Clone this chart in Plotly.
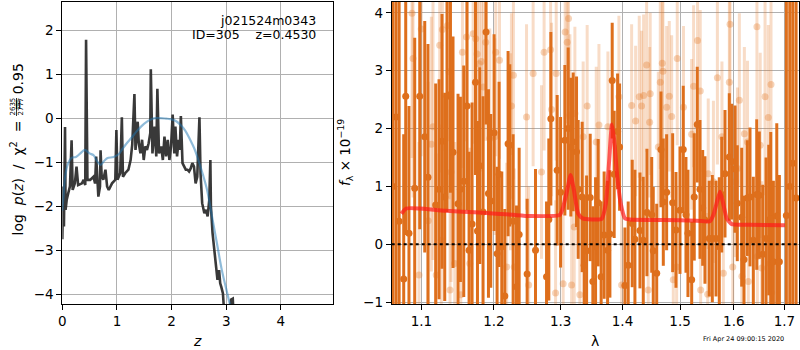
import plotly.graph_objects as go

# ---------------- Left panel: log p(z) ----------------
z_chi = [0.00, 0.018, 0.03, 0.05, 0.06, 0.08, 0.11, 0.14, 0.17, 0.19, 0.23, 0.26, 0.29, 0.36, 0.39,
         0.42, 0.435, 0.46, 0.51, 0.57, 0.60, 0.62, 0.66, 0.69, 0.70, 0.72, 0.75, 0.79, 0.82, 0.85,
         0.91, 0.97, 0.99, 1.01, 1.06, 1.09, 1.11, 1.15, 1.21, 1.25, 1.28, 1.32, 1.34, 1.38, 1.40,
         1.43, 1.46, 1.49, 1.52, 1.55, 1.58, 1.61, 1.62, 1.65, 1.69, 1.72, 1.74, 1.77, 1.81, 1.84,
         1.87, 1.90, 1.93, 1.96, 1.99, 2.02, 2.05, 2.07, 2.10, 2.13, 2.15, 2.17, 2.20, 2.23, 2.26,
         2.29, 2.32, 2.35, 2.38, 2.41, 2.44, 2.47, 2.51, 2.53, 2.56, 2.60, 2.63, 2.66, 2.69, 2.71,
         2.72, 2.75, 2.78, 2.81, 2.84, 2.87, 2.89, 2.91, 2.94, 2.96, 2.99, 3.05, 3.09, 3.12, 3.14]
logp_chi = [-2.75, -1.55, -2.46, -0.20, -2.08, -1.86, -1.70, -1.55, -0.50, -1.63, -1.48, -1.10, -1.52, -1.48, -1.40,
            -1.52, 1.78, -1.40, -1.40, -1.33, -1.48, -0.87, -1.78, -1.55, -0.73, -1.30, -1.40, -1.17, -1.55, -1.63,
            -1.48, -1.40, -0.27, -1.40, -1.25, 0.02, -1.33, -1.25, -1.17, -0.95, -0.60, 0.55, -0.72, -0.08, -0.57,
            -0.80, -0.49, -0.95, -0.64, -0.72, -0.57, -0.34, 1.11, -0.80, -0.19, -0.87, 0.67, -0.80, -0.64, -0.95,
            -0.42, -0.87, -0.49, -0.95, -0.64, 0.08, -0.80, -0.19, -0.87, -0.49, -0.72, 0.05, -1.02, -1.10, -1.17,
            -1.17, -1.21, -1.14, -1.02, -1.10, -1.48, -1.33, 0.02, -1.25, -1.93, -2.16, -2.08, -2.23, -1.86, -0.95,
            -2.00, -2.61, -2.99, -3.45, -3.67, -3.45, -3.75, -3.83, -3.98, -4.36, -4.89, -4.60, -4.12, -4.10, -4.60]

z_smooth = [0.00, 0.02, 0.05, 0.10, 0.17, 0.25, 0.33, 0.41, 0.50, 0.57, 0.64, 0.70, 0.76, 0.82, 0.94,
            1.03, 1.10, 1.18, 1.27, 1.36, 1.45, 1.55, 1.62, 1.70, 1.80, 1.90, 1.98, 2.07, 2.16, 2.25,
            2.34, 2.42, 2.49, 2.57, 2.65, 2.74, 2.83, 2.92, 3.02, 3.10]
logp_smooth = [-2.10, -1.80, -1.35, -1.05, -0.90, -0.88, -0.80, -0.72, -0.80, -0.84, -0.98, -1.06, -0.98, -0.91, -0.88,
               -0.82, -0.70, -0.57, -0.44, -0.30, -0.18, -0.08, -0.03, 0.00, 0.00, -0.01, -0.02, -0.06, -0.15, -0.28,
               -0.49, -0.70, -0.95, -1.27, -1.63, -2.23, -2.84, -3.45, -3.98, -4.40]

left_xticks = [0, 1, 2, 3, 4]
left_yticks = [-4, -3, -2, -1, 0, 1, 2]

# ---------------- Right panel: spectrum ----------------
wave_dark = [1.063, 1.067, 1.071, 1.0769, 1.0795, 1.0837, 1.0912, 1.0978, 1.1044, 1.1087, 1.1190, 1.1235, 1.1275,
             1.1312, 1.1343, 1.1390, 1.1425, 1.1494, 1.1527, 1.1573, 1.1619, 1.1647, 1.1689, 1.1737, 1.1765,
             1.1798, 1.1844, 1.1887, 1.1921, 1.1954, 1.2002, 1.2045, 1.2074, 1.2113, 1.2157, 1.2205, 1.2230,
             1.2279, 1.2329, 1.2368, 1.2487, 1.2613, 1.2781, 1.2816, 1.2847, 1.2945, 1.2998, 1.3065, 1.3117,
             1.3159, 1.3196, 1.3249, 1.3275, 1.3339, 1.3371, 1.3410, 1.3468, 1.3511, 1.3555, 1.3597, 1.3646,
             1.3695, 1.3752, 1.3790, 1.3828, 1.3861, 1.3918, 1.3951, 1.4041, 1.4096, 1.4164, 1.4210, 1.4296,
             1.4353, 1.4416, 1.4499, 1.4526, 1.4586, 1.4661, 1.4702, 1.4761, 1.4868, 1.4927, 1.4999, 1.5058,
             1.5107, 1.5143, 1.5211, 1.5258, 1.5313, 1.5363, 1.5413, 1.5455, 1.5535, 1.5592, 1.5661, 1.5723,
             1.5769, 1.5831, 1.5913, 1.5959, 1.6022, 1.6066, 1.6151, 1.6196, 1.6260, 1.6313, 1.6378, 1.6445,
             1.6496, 1.6564, 1.6630, 1.6684, 1.6724, 1.6777, 1.6845, 1.6898, 1.7040, 1.7110, 1.7172, 1.7240]
flux_dark = [1.00, 2.20, 0.40, -0.60, 2.56, 0.19, 0.97, 2.56, 1.86, 1.16, 0.68, 0.95, 1.78,
             0.82, 2.56, 2.59, 1.59, 0.70, 0.95, 1.09, 2.39, -0.10, 0.35, 2.80, 0.23,
             1.36, 0.56, 3.67, 0.88, 0.75, 1.93, -0.16, 1.21, -0.04, -0.89, 1.74, 1.71,
             0.40, -0.73, 0.17, -0.51, -0.10, -0.56, 0.43, 2.17, 1.28, 0.90, 1.80, 2.00,
             1.68, 1.77, 1.60, 0.95, 0.82, -0.36, -0.11, 0.81, -0.64, -0.04, 0.72, -0.56,
             0.16, -0.10, 0.18, 2.83, 1.21, 1.95, 1.68, -0.71, -0.36, 0.36, 0.09, 0.24,
             0.07, 0.55, 0.51, -0.11, -0.50, 1.64, 0.73, 0.90, 0.72, 0.25, 0.59, 1.64,
             0.51, 0.19, -0.61, 0.82, 2.07, 0.95, 0.63, 0.42, 0.10, 0.10, 0.10, -0.04,
             0.86, 1.22, 1.51, 1.43, 1.30, 0.71, 0.47, -0.26, 0.80, 0.82, 0.07, 0.86,
             0.85, -0.17, 0.10, 0.42, 0.44, -0.30, 0.49, -0.30, 0.50, 1.00, 1.40, 0.80]
err_dark = [9.0, 9.0, 7.0, 2.5, 2.4, 2.2, 2.6, 2.3, 2.0, 2.3, 2.1, 1.9, 2.2,
            1.8, 2.0, 1.7, 2.0, 1.9, 1.6, 2.0, 1.8, 1.7, 2.1, 1.6, 1.9,
            1.7, 2.0, 1.6, 1.8, 1.5, 1.7, 1.5, 1.6, 1.3, 1.5, 1.6, 1.4,
            1.5, 1.4, 1.5, 1.3, 1.4, 1.3, 1.4, 1.5, 1.3, 1.3, 1.3, 1.4,
            1.2, 1.2, 1.3, 1.2, 1.3, 1.2, 1.3, 1.1, 1.3, 1.2, 1.1, 1.3,
            1.1, 1.2, 1.1, 1.0, 1.1, 1.0, 1.1, 1.0, 1.1, 1.1, 1.2, 1.0,
            1.1, 1.1, 1.0, 1.1, 1.2, 1.0, 1.1, 1.0, 1.2, 1.0, 1.1, 1.1,
            1.0, 1.1, 1.0, 1.1, 1.0, 1.2, 1.0, 1.1, 1.0, 1.1, 1.0, 1.2,
            1.0, 1.1, 1.1, 1.0, 1.1, 1.0, 1.2, 1.1, 1.0, 1.2, 1.1, 1.3,
            1.1, 1.2, 1.4, 1.3, 1.5, 1.4, 1.6, 1.5, 9.0, 9.0, 8.0, 9.0]

wave_light = [1.0877, 1.0890, 1.0968, 1.0998, 1.1090, 1.1132, 1.1154, 1.1197, 1.1244, 1.1266, 1.1280, 1.1349,
              1.1370, 1.1384, 1.1398, 1.1449, 1.1532, 1.1555, 1.1611, 1.1657, 1.1704, 1.1741, 1.1760, 1.1788,
              1.1821, 1.1850, 1.1882, 1.1940, 1.2012, 1.2026, 1.2080, 1.2185, 1.2240, 1.2254, 1.2283, 1.2296,
              1.2478, 1.2510, 1.2577, 1.2704, 1.2744, 1.2843, 1.2858, 1.2920, 1.2930, 1.3038, 1.3070, 1.3102,
              1.3122, 1.3144, 1.3171, 1.3212, 1.3223, 1.3302, 1.3355, 1.3419, 1.3566, 1.3610, 1.3757, 1.3940,
              1.3985, 1.4154, 1.4222, 1.4284, 1.4324, 1.4359, 1.4411, 1.4439, 1.4463, 1.4473, 1.4614, 1.4649,
              1.4684, 1.4696, 1.4761, 1.4808, 1.4850, 1.4879, 1.4939, 1.4950, 1.5062, 1.5210, 1.5246, 1.5318,
              1.5368, 1.5376, 1.5506, 1.5516, 1.5613, 1.5687, 1.5773, 1.5800, 1.5914, 1.5927, 1.5979, 1.6026,
              1.6070, 1.6106, 1.6155, 1.6203, 1.6264, 1.6280, 1.6449, 1.6458, 1.6514, 1.6543, 1.6610, 1.6675,
              1.6709, 1.6729, 1.6743]
flux_light = [3.99, 3.21, -0.53, 3.72, 0.41, 1.73, 2.03, -0.53, 3.44, 0.07, 3.71, 3.78,
              2.98, -0.79, 1.25, -0.33, -0.87, 3.32, 3.58, -0.33, 3.64, 3.55, 3.29, 3.12,
              3.16, 2.72, 3.49, 1.83, 1.86, 3.32, 3.18, -0.39, 1.60, 2.39, 2.92, -0.39,
              2.20, -0.70, 2.95, 1.25, 3.32, 3.36, 2.33, -0.84, 2.95, -0.68, 3.67, 3.49,
              3.90, 2.23, -0.70, 0.30, 2.26, -0.87, 1.86, 2.39, 1.77, 2.06, 2.03, 2.55,
              -0.70, 2.40, 2.13, 2.55, 2.39, 2.57, 3.10, -0.79, 2.11, 2.60, 1.68, 2.80,
              3.13, 2.99, 2.37, 2.56, 2.21, -0.61, -0.39, 3.21, 2.37, 1.90, 2.73, 3.52,
              2.65, -0.79, -0.86, 1.22, 1.08, 2.88, 1.86, -0.50, 2.80, 3.80, -0.39, 1.08,
              1.31, 2.49, -0.55, 1.91, 1.77, -0.64, 3.76, -0.21, 1.71, -0.41, 2.55, 2.19,
              -0.33, 2.76, -0.83]
err_light = [2.5, 2.4, 2.3, 2.2, 2.4, 2.2, 2.3, 2.1, 2.2, 2.0, 2.1, 2.0,
             2.2, 2.0, 1.9, 2.1, 1.9, 2.0, 1.8, 2.0, 1.9, 1.8, 2.0, 1.7,
             1.9, 1.8, 1.7, 1.9, 1.7, 1.8, 1.7, 1.8, 1.7, 1.6, 1.8, 1.7,
             1.6, 1.7, 1.6, 1.5, 1.7, 1.6, 1.5, 1.6, 1.5, 1.6, 1.5, 1.4,
             1.5, 1.4, 1.5, 1.4, 1.5, 1.4, 1.3, 1.4, 1.3, 1.4, 1.3, 1.4,
             1.3, 1.4, 1.3, 1.4, 1.3, 1.4, 1.5, 1.4, 1.3, 1.4, 1.3, 1.5,
             1.4, 1.5, 1.4, 1.3, 1.4, 1.3, 1.4, 1.5, 1.4, 1.3, 1.4, 1.5,
             1.4, 1.3, 1.4, 1.3, 1.4, 1.5, 1.3, 1.4, 1.5, 1.6, 1.4, 1.3,
             1.4, 1.5, 1.4, 1.5, 1.4, 1.5, 1.6, 1.5, 1.6, 1.5, 1.7, 1.6,
             1.7, 1.8, 1.7]

wave_model = [1.0739, 1.0800, 1.0977, 1.1322, 1.1798, 1.2279, 1.2527, 1.2987, 1.3039, 1.3102, 1.3155, 1.3207,
              1.3275, 1.3345, 1.3654, 1.3723, 1.3778, 1.3823, 1.3861, 1.3912, 1.3969, 1.4041, 1.4125, 1.4702,
              1.5304, 1.5549, 1.5613, 1.5687, 1.5737, 1.5788, 1.5863, 1.5959, 1.6313, 1.7012]
flux_model = [0.53, 0.62, 0.62, 0.58, 0.55, 0.51, 0.49, 0.51, 0.65, 0.94, 1.20, 0.94,
              0.53, 0.45, 0.44, 0.71, 1.45, 2.07, 1.80, 1.17, 0.71, 0.45, 0.43, 0.42,
              0.41, 0.40, 0.51, 0.76, 0.91, 0.74, 0.45, 0.35, 0.34, 0.33]

right_xticks = [1.1, 1.2, 1.3, 1.4, 1.5, 1.6, 1.7]
right_xticktext = ["1.1", "1.2", "1.3", "1.4", "1.5", "1.6", "1.7"]
right_yticks = [-1, 0, 1, 2, 3, 4]

# ---------------- Figure ----------------
W, H = 800, 350
FONT = "DejaVu Sans"
ORANGE = "rgb(222,111,28)"
ORANGE_L = "rgba(228,120,40,0.26)"
ORANGE_LM = "rgba(228,120,40,0.33)"
NB = "\u00a0"

fig = go.Figure()

fig.add_trace(go.Scatter(x=z_chi, y=logp_chi, mode="lines", xaxis="x", yaxis="y",
                         line=dict(color="rgba(40,40,40,0.92)", width=2.6), hoverinfo="skip"))
fig.add_trace(go.Scatter(x=z_smooth, y=logp_smooth, mode="lines", xaxis="x", yaxis="y",
                         line=dict(color="rgba(31,119,180,0.5)", width=2.2, shape="spline"), hoverinfo="skip"))

fig.add_trace(go.Scatter(x=wave_light, y=flux_light, mode="markers", xaxis="x2", yaxis="y2",
                         marker=dict(color=ORANGE_LM, size=7),
                         error_y=dict(type="data", array=err_light, visible=True, thickness=3, width=0,
                                      color=ORANGE_L)))
fig.add_trace(go.Scatter(x=wave_dark, y=flux_dark, mode="markers", xaxis="x2", yaxis="y2",
                         marker=dict(color=ORANGE, size=7),
                         error_y=dict(type="data", array=err_dark, visible=True, thickness=3, width=0,
                                      color=ORANGE)))
fig.add_trace(go.Scatter(x=wave_model, y=flux_model, mode="lines", xaxis="x2", yaxis="y2",
                         line=dict(color="rgba(255,25,25,0.7)", width=4, shape="spline", smoothing=0.5),
                         hoverinfo="skip"))

fig.add_shape(type="line", xref="x2 domain", yref="y2", x0=0, x1=1, y0=0, y1=0,
              line=dict(color="black", width=2, dash="3px,3px"))

def px(x):
    return x / W

def py(y):
    return 1 - y / H

axis_common = dict(showline=True, linecolor="black", linewidth=1, mirror=True,
                   ticks="outside", ticklen=5, tickwidth=1, tickcolor="black",
                   showgrid=True, gridcolor="#b0b0b0", gridwidth=1, zeroline=False,
                   automargin=False,
                   tickfont=dict(family=FONT, size=13.5, color="black"))

ydom = [py(304), py(1.5)]
fig.update_layout(
    width=W, height=H, margin=dict(l=0, r=0, t=0, b=0, autoexpand=False),
    paper_bgcolor="white", plot_bgcolor="white", showlegend=False,
    font=dict(family=FONT, color="black"),
    xaxis=dict(domain=[px(62.3), px(333.3)], range=[0, 4.96], tickvals=left_xticks,
               anchor="y", **axis_common),
    yaxis=dict(domain=ydom, range=[-4.22, 2.65], tickvals=left_yticks, anchor="x", **axis_common),
    xaxis2=dict(domain=[px(391.7), px(799)], type="log", range=[0.02592, 0.23805],
                tickvals=right_xticks, ticktext=right_xticktext, anchor="y2", **axis_common),
    yaxis2=dict(domain=ydom, range=[-1.03, 4.195], tickvals=right_yticks, anchor="x2", **axis_common),
)

ann = []
# info text
ann.append(dict(text="j021524m0343", x=px(318), y=py(20.5), xanchor="right", yanchor="middle",
                font=dict(size=12.5)))
ann.append(dict(text="ID=305" + NB * 4 + "z=0.4530", x=px(318), y=py(34), xanchor="right",
                yanchor="middle", font=dict(size=12.5)))
# x titles
ann.append(dict(text="<i>z</i>", x=px(197), y=py(341), xanchor="center", yanchor="middle",
                font=dict(size=14)))
ann.append(dict(text="λ", x=px(595), y=py(341), xanchor="center", yanchor="middle",
                font=dict(size=14)))
# left y title (pieces)
ann.append(dict(text="log" + NB * 2 + "<i>p</i>(<i>z</i>)" + NB * 2 + "/" + NB * 2 + "χ<sup>2</sup>"
                + NB * 2 + "=",
                textangle=-90, x=px(17), y=py(238), xanchor="center", yanchor="bottom",
                font=dict(size=14)))
ann.append(dict(text="2635", textangle=-90, x=px(12.5), y=py(107), xanchor="center", yanchor="middle",
                font=dict(size=7)))
ann.append(dict(text="2777", textangle=-90, x=px(20.5), y=py(107), xanchor="center", yanchor="middle",
                font=dict(size=7)))
ann.append(dict(text="=" + NB + "0.95", textangle=-90, x=px(17), y=py(62), xanchor="center", yanchor="top",
                font=dict(size=14)))
# right y title
ann.append(dict(text="<i>f</i><sub>λ</sub>" + NB + "×" + NB + "10<sup>−19</sup>", textangle=-90,
                x=px(345), y=py(153), xanchor="center", yanchor="middle", font=dict(size=13.5)))
# timestamp
ann.append(dict(text="Fri Apr 24 09:00:15 2020", x=px(743.5), y=py(339), xanchor="center",
                yanchor="middle", font=dict(size=6.5)))
for a in ann:
    a.update(xref="paper", yref="paper", showarrow=False)
fig.update_layout(annotations=ann)

# fraction bar for the left y title
fig.add_shape(type="line", xref="paper", yref="paper", x0=px(16.5), x1=px(16.5), y0=py(98), y1=py(116),
              line=dict(color="black", width=0.8))

fig.write_html("out.html", config={"displayModeBar": False},
               post_script="document.body.style.margin='0px';document.body.style.padding='0px';")
